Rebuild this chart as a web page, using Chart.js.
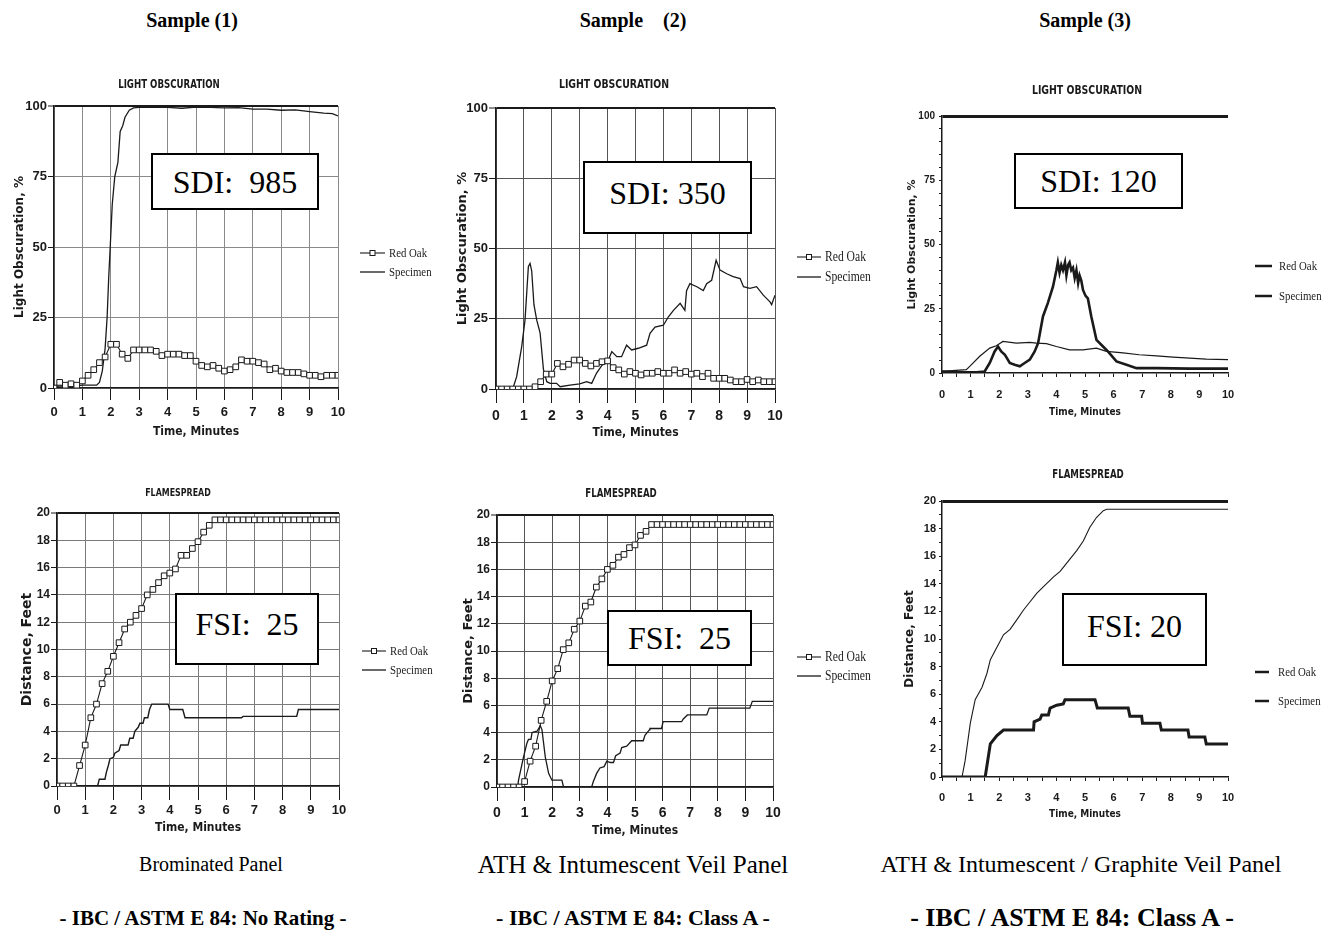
<!DOCTYPE html>
<html>
<head>
<meta charset="utf-8">
<title>Sample comparison</title>
<script src="https://cdn.jsdelivr.net/npm/chart.js@4.4.1/dist/chart.umd.min.js"></script>
<style>
  body { margin: 0; width: 1329px; height: 934px; position: relative; overflow: hidden; background: #fff; font-family: "Liberation Serif", "Times New Roman", serif; color: #000; }
  canvas { position: absolute; }
  .txt { position: absolute; white-space: pre; transform: translate(-50%, -50%); line-height: 1; }
  .head { font-weight: bold; font-size: 20px; }
  .panel-name { font-size: 24px; }
  .rating { font-weight: bold; font-size: 21px; }
  .index-box { position: absolute; box-sizing: border-box; border: 2px solid #000; background: #fff; display: flex; align-items: center; justify-content: center; font-size: 32px; white-space: pre; line-height: 1; }
</style>
</head>
<body>
<canvas id="c1"></canvas>
<canvas id="c2"></canvas>
<canvas id="c3"></canvas>
<canvas id="c4"></canvas>
<canvas id="c5"></canvas>
<canvas id="c6"></canvas>

<div class="txt head" style="left:192px;top:20px">Sample (1)</div>
<div class="txt head" style="left:633px;top:20px">Sample    (2)</div>
<div class="txt head" style="left:1085px;top:20px">Sample (3)</div>

<div class="index-box" style="left:151px;top:153px;width:168px;height:57px">SDI:  985</div>
<div class="index-box" style="left:583px;top:161px;width:169px;height:73px;padding-bottom:10px">SDI: 350</div>
<div class="index-box" style="left:1014px;top:153px;width:169px;height:56px">SDI: 120</div>
<div class="index-box" style="left:175px;top:593px;width:144px;height:72px;padding-bottom:10px">FSI:  25</div>
<div class="index-box" style="left:607px;top:610px;width:145px;height:56px">FSI:  25</div>
<div class="index-box" style="left:1062px;top:593px;width:145px;height:73px;padding-bottom:8px">FSI: 20</div>

<div class="txt panel-name" style="left:211px;top:864px;font-size:20px">Brominated Panel</div>
<div class="txt panel-name" style="left:633px;top:864px;font-size:25px">ATH &amp; Intumescent Veil Panel</div>
<div class="txt panel-name" style="left:1081px;top:864px">ATH &amp; Intumescent / Graphite Veil Panel</div>
<div class="txt rating" style="left:203px;top:918px">- IBC / ASTM E 84: No Rating -</div>
<div class="txt rating" style="left:633px;top:918px;font-size:22px">- IBC / ASTM E 84: Class A -</div>
<div class="txt rating" style="left:1072px;top:918px;font-size:26px">- IBC / ASTM E 84: Class A -</div>

<script>
// red oak squares are read every 0.2 minutes
const oakTimes = [0, 0.2, 0.4, 0.6, 0.8, 1, 1.2, 1.4, 1.6, 1.8, 2, 2.2, 2.4, 2.6, 2.8, 3, 3.2, 3.4, 3.6, 3.8,
  4, 4.2, 4.4, 4.6, 4.8, 5, 5.2, 5.4, 5.6, 5.8, 6, 6.2, 6.4, 6.6, 6.8, 7, 7.2, 7.4, 7.6, 7.8,
  8, 8.2, 8.4, 8.6, 8.8, 9, 9.2, 9.4, 9.6, 9.8, 10];

// Sample 1 - light obscuration
const s1OakSmoke = [0, 2, 1, 1.5, 1, 2.5, 4.5, 6.5, 9, 11, 15.5, 15.5, 12, 10.5, 13.5, 13.5, 13.5, 13.5, 13, 11.5,
  12, 12, 12, 11.5, 11.5, 9.5, 8, 7.5, 8, 7, 6, 6.5, 7.5, 10, 9.5, 9.5, 9, 8.5, 6.5, 7,
  6, 5.5, 5.5, 5.5, 5, 4.5, 4.5, 4, 4.5, 4.5, 4.5];
const s1SpecSmokeT = [0, 0.3, 0.6, 1, 1.5, 1.6, 1.7, 1.8, 1.87, 1.93, 1.98, 2.05, 2.14, 2.25, 2.33, 2.42, 2.5, 2.65,
  2.8, 3, 3.5, 4, 4.5, 5, 5.5, 6, 6.5, 7, 7.5, 8, 8.5, 9, 9.5, 9.8, 10];
const s1SpecSmoke = [0.5, 0.8, 0.5, 1, 1, 2, 6, 14, 25, 40, 50, 65, 75, 80, 91, 93, 96, 98.5,
  99.3, 99.5, 99.5, 99.5, 99.2, 99.6, 99.5, 99.3, 99.4, 98.9, 98.9, 98.5, 98.6, 98, 97.5, 97.3, 96.5];

// Sample 2 - light obscuration
const s2OakSmoke = [0, 0, 0, 0, 0, 0, 0, 0.8, 2.6, 5.3, 5.3, 9.1, 7.9, 8.8, 10.3, 10.3, 9.1, 8.2, 9.1, 9.7,
  10, 7.6, 6.8, 5.3, 6.2, 5.6, 5, 5.6, 5.6, 6.2, 5.6, 5.6, 6.8, 5.6, 6.2, 5.3, 5.6, 4.4, 5.6, 3.8,
  3.8, 3.8, 3.2, 2.6, 2.6, 3.4, 2.6, 3.2, 2.6, 2.6, 2.6];
const s2SpecSmokeT = [0, 0.6, 0.74, 0.92, 1.04, 1.16, 1.22, 1.28, 1.36, 1.46, 1.58, 1.7, 1.82, 1.94, 2.17, 2.3,
  2.65, 3, 3.25, 3.43, 3.6, 3.8, 4, 4.15, 4.33, 4.5, 4.68, 4.86, 5.1, 5.4, 5.52, 5.7, 6, 6.18, 6.36,
  6.6, 6.77, 6.83, 6.95, 7.2, 7.43, 7.55, 7.73, 7.89, 8.03, 8.27, 8.5, 8.75, 8.87, 9.1, 9.34, 9.58,
  9.82, 9.88, 10];
const s2SpecSmoke = [0, 0, 4.4, 15, 24.5, 43.5, 44.7, 42, 30, 24.5, 20, 7, 2.6, 2, 2, 0.8,
  1.4, 1.8, 2.6, 2, 5.6, 8.5, 9.7, 13.3, 11.5, 11.5, 15.6, 13.9, 14.5, 15.6, 19.8, 22, 22.7, 25.7, 28,
  30.5, 28, 35, 37.5, 36.4, 35, 37.5, 38.7, 45.8, 42.3, 41, 40, 39.3, 36.4, 35.8, 36.4, 33.4,
  31, 30, 33.4];

// Sample 3 - light obscuration
const s3OakSmokeT = [0, 0.85, 0.97, 1.32, 1.67, 1.9, 2.13, 2.6, 3.07, 3.3, 3.65, 4, 4.46, 4.93, 5.4, 5.75,
  6.33, 6.9, 7.5, 8.08, 8.66, 9.24, 10];
const s3OakSmoke = [0.6, 1.3, 2.6, 6.5, 9.7, 10.6, 12.3, 11.6, 11.9, 11.6, 11.4, 10.3, 9, 9, 9.7, 8.4,
  7.8, 7.1, 6.7, 6.2, 5.8, 5.4, 5.2];
const s3SpecSmokeT = [0, 0.5, 1.2, 1.49, 1.67, 1.84, 1.96, 2.07, 2.2, 2.37, 2.54, 2.72, 2.89, 3.07, 3.24, 3.36,
  3.53, 3.7, 3.88, 4, 4.05, 4.11, 4.17, 4.23, 4.3, 4.35, 4.41, 4.46, 4.52, 4.58, 4.64, 4.7, 4.76,
  4.81, 4.87, 4.93, 5.02, 5.1, 5.22, 5.4, 5.63, 5.8, 6.1, 6.45, 6.8, 7.5, 8.66, 10];
const s3SpecSmoke = [0.6, 0.4, 0.3, 0.6, 3.9, 8.4, 10.3, 8.4, 7.1, 3.9, 3.2, 2.6, 3.9, 5.2, 8.4, 11.6,
  22, 27.2, 33.6, 40, 43, 39, 42, 40, 43, 38, 42, 43, 40, 41, 37, 40, 35,
  38, 36, 32.3, 30, 29, 22, 12.9, 10.3, 8.4, 4.5, 3.2, 1.9, 1.9, 1.7, 1.7];

// Sample 1 - flamespread
const s1OakFlame = [0, 0, 0, 0, 1.5, 3, 5, 6, 7.5, 8.4, 9.5, 10.5, 11.5, 12, 12.5, 13, 14, 14.4, 14.9, 15.4,
  15.6, 15.9, 16.9, 16.9, 17.4, 17.9, 18.6, 19.1, 19.5, 19.5, 19.5, 19.5, 19.5, 19.5, 19.5, 19.5,
  19.5, 19.5, 19.5, 19.5, 19.5, 19.5, 19.5, 19.5, 19.5, 19.5, 19.5, 19.5, 19.5, 19.5, 19.5];
const s1SpecFlameT = [0, 1.44, 1.5, 1.7, 1.75, 1.82, 1.88, 2, 2.05, 2.2, 2.26, 2.52, 2.58, 2.7, 2.76, 2.88,
  2.94, 3.05, 3.1, 3.22, 3.28, 3.36, 3.94, 4, 4.46, 4.54, 6.54, 6.6, 8.5, 8.56, 10];
const s1SpecFlame = [0, 0, 0.5, 0.5, 1, 1.5, 2, 2.1, 2.4, 2.6, 3, 3, 3.5, 3.5, 4, 4.3,
  4.6, 4.6, 5, 5, 5.6, 6, 6, 5.6, 5.6, 5, 5, 5.1, 5.1, 5.6, 5.6];

// Sample 2 - flamespread
const s2OakFlame = [0, 0, 0, 0, 0, 0.4, 1.9, 3, 4.9, 6.3, 7.8, 8.7, 10.1, 10.6, 11.6, 12.2, 13.3, 13.6, 14.7, 15.3,
  16, 16.3, 16.9, 17.1, 17.6, 17.8, 18.5, 18.8, 19.3, 19.3, 19.3, 19.3, 19.3, 19.3, 19.3, 19.3,
  19.3, 19.3, 19.3, 19.3, 19.3, 19.3, 19.3, 19.3, 19.3, 19.3, 19.3, 19.3, 19.3, 19.3, 19.3];
const s2SpecFlameT = [0, 0.75, 0.78, 0.96, 1.08, 1.14, 1.23, 1.27, 1.45, 1.57, 1.63, 1.75, 1.87, 1.99, 2.35,
  2.41, 3.43, 3.49, 3.61, 3.73, 3.88, 3.98, 4.1, 4.22, 4.3, 4.46, 4.52, 4.7, 4.88, 5.3, 5.36, 5.52,
  5.54, 5.96, 6.02, 6.69, 6.75, 6.9, 7.6, 7.69, 9.16, 9.25, 10];
const s2SpecFlame = [0, 0, 0.5, 2.2, 3.2, 3.5, 3.5, 4, 4.1, 4.5, 4.2, 2.2, 1, 0.5, 0.5,
  0, 0, 0.4, 1, 1.4, 1.5, 1.9, 1.8, 1.8, 2.3, 2.5, 2.9, 3, 3.4, 3.4, 3.8, 4.2,
  4.3, 4.3, 4.8, 4.8, 5, 5.3, 5.3, 5.8, 5.8, 6.3, 6.3];

// Sample 3 - flamespread
const s3OakFlameT = [0, 0.7, 0.81, 0.99, 1.16, 1.4, 1.57, 1.69, 1.92, 2.15, 2.38, 2.62, 2.85, 3.08, 3.31,
  3.55, 3.9, 4.13, 4.36, 4.71, 4.94, 5.17, 5.4, 5.64, 5.76, 10];
const s3OakFlame = [0, 0, 1.2, 3.9, 5.6, 6.5, 7.5, 8.5, 9.4, 10.3, 10.7, 11.4, 12.1, 12.7, 13.3,
  13.8, 14.5, 14.9, 15.5, 16.4, 17.1, 18.1, 18.8, 19.3, 19.4, 19.4];
const s3SpecFlameT = [0, 1.51, 1.69, 1.92, 2.15, 3.02, 3.2, 3.22, 3.43, 3.49, 3.72, 3.78, 4.01, 4.24, 4.3,
  5.35, 5.43, 6.51, 6.57, 6.98, 7.01, 7.62, 7.67, 8.6, 8.64, 9.19, 9.24, 10];
const s3SpecFlame = [0, 0, 2.4, 3, 3.4, 3.4, 3.4, 4, 4.2, 4.5, 4.5, 5, 5.2, 5.3, 5.6,
  5.6, 5, 5, 4.4, 4.4, 3.9, 3.9, 3.4, 3.4, 2.9, 2.9, 2.4, 2.4];

const COND = "'DejaVu Sans Condensed', 'Liberation Sans', sans-serif";
const NUM = "'Liberation Sans', Arial, sans-serif";
const WIDE = "'DejaVu Sans', Verdana, sans-serif";
const SERIF = "'Liberation Serif', 'Times New Roman', serif";
const INK = '#1a1a1a';

const pts = (ts, vs) => ts.map((t, i) => ({ x: t, y: vs[i] }));

// red oak with square markers / plain specimen line
const oakSquares = (data) => ({
  label: 'Red Oak', data, borderColor: INK, borderWidth: 1.1,
  pointStyle: 'rect', pointRadius: 4, pointBackgroundColor: '#fff',
  pointBorderColor: INK, pointBorderWidth: 1
});
const plainLine = (label, data, width) => ({
  label, data, borderColor: INK, borderWidth: width, pointRadius: 0
});

// narrow text: squeeze horizontally around the anchor
function squeezeText(ctx, text, x, y, sx) {
  ctx.save();
  ctx.translate(x, y);
  ctx.scale(sx, 1);
  ctx.fillText(text, 0, 0);
  ctx.restore();
}

// title and legend drawn next to the plot
function decoPlugin(p) {
  return {
    id: 'deco',
    afterDraw(chart) {
      const ctx = chart.ctx, ox = p.box.x, oy = p.box.y;
      ctx.save();
      ctx.fillStyle = INK;
      ctx.textAlign = 'center';
      ctx.textBaseline = 'middle';
      ctx.font = `bold ${p.head.size}px ${COND}`;
      squeezeText(ctx, p.head.text, p.head.x - ox, p.head.y - oy, 0.8);

      ctx.textAlign = 'left';
      ctx.font = `${p.legend.size}px ${SERIF}`;
      chart.data.datasets.forEach((ds, i) => {
        const x = p.legend.x - ox, y = p.legend.y[i] - oy, len = p.legend.len;
        ctx.strokeStyle = INK;
        ctx.lineWidth = p.legend.width[i];
        ctx.beginPath();
        ctx.moveTo(x, y);
        ctx.lineTo(x + len, y);
        ctx.stroke();
        if (ds.pointRadius > 0) {
          ctx.fillStyle = '#fff';
          ctx.lineWidth = 1;
          ctx.fillRect(x + len / 2 - 2.5, y - 2.5, 5, 5);
          ctx.strokeRect(x + len / 2 - 2.5, y - 2.5, 5, 5);
        }
        ctx.fillStyle = INK;
        squeezeText(ctx, ds.label, x + len + p.legend.gap, y + 0.5, 0.83);
      });
      ctx.restore();
    }
  };
}

function makePanel(p) {
  const cv = document.getElementById(p.id);
  cv.width = p.box.w;
  cv.height = p.box.h;
  cv.style.left = p.box.x + 'px';
  cv.style.top = p.box.y + 'px';

  // pin the plot area: axis widths are fixed so the titles land where they should
  const yLH = p.yTitle.size * 1.2, xLH = p.xTitle.size * 1.2;
  const scaleLeft = p.yTitle.x - yLH / 2;
  const scaleBottom = p.xTitle.y + xLH / 2;
  const yw = p.plot.l - scaleLeft;
  const xh = scaleBottom - p.plot.b;
  const framed = p.style === 'grid';
  const yMax = p.yMax;
  const isTop = (c) => c.tick && c.tick.value === yMax;

  new Chart(cv, {
    type: 'line',
    data: { datasets: p.datasets },
    options: {
      responsive: false,
      animation: false,
      events: [],
      layout: {
        padding: {
          left: scaleLeft - p.box.x,
          top: p.plot.t - p.box.y,
          right: p.box.x + p.box.w - p.plot.r,
          bottom: p.box.y + p.box.h - scaleBottom
        }
      },
      plugins: { legend: { display: false }, tooltip: { enabled: false } },
      scales: {
        x: {
          type: 'linear', min: 0, max: 10,
          afterFit: (s) => { s.height = xh; },
          ticks: {
            stepSize: p.xStep, autoSkip: false, maxRotation: 0, color: INK,
            padding: p.xTick.pad,
            font: { family: NUM, weight: 'bold', size: p.xTick.size },
            callback: (v) => (Number.isInteger(v) ? v : '')
          },
          grid: {
            color: framed ? p.gridColor : 'rgba(0,0,0,0)',
            lineWidth: 1, tickLength: p.xTick.len, tickColor: INK, tickWidth: 1
          },
          border: { display: true, color: INK, width: 1.5 },
          title: {
            display: true, text: 'Time, Minutes', color: INK, padding: 0,
            font: { family: COND, weight: 'bold', size: p.xTitle.size }
          }
        },
        y: {
          min: 0, max: yMax,
          afterFit: (s) => { s.width = yw; },
          ticks: {
            stepSize: p.yStep, autoSkip: false, color: INK, padding: p.yTick.pad,
            font: { family: NUM, weight: 'bold', size: p.yTick.size },
            callback: (v) => (v % p.yLabelEvery === 0 ? v : '')
          },
          grid: {
            color: (c) => (isTop(c) ? INK : (framed ? p.gridColor : 'rgba(0,0,0,0)')),
            lineWidth: (c) => (isTop(c) ? (framed ? 2 : 3) : 1),
            tickLength: p.yTick.len, tickColor: INK, tickWidth: 1
          },
          border: { display: true, color: INK, width: 1.5 },
          title: {
            display: true, text: p.yTitle.text, color: INK, padding: 0,
            font: { family: WIDE, weight: 'bold', size: p.yTitle.size }
          }
        }
      }
    },
    plugins: [decoPlugin(p)]
  });
}

const LIGHT = 'LIGHT OBSCURATION';
const FLAME = 'FLAMESPREAD';
const SMOKE_AXIS = 'Light Obscuration, %';
const DIST_AXIS = 'Distance, Feet';

makePanel({
  id: 'c1', style: 'grid', gridColor: '#8a8a8a',
  box: { x: 0, y: 70, w: 440, h: 380 }, plot: { l: 54, t: 106, r: 338, b: 388 },
  yMax: 100, yStep: 25, yLabelEvery: 25, xStep: 1,
  yTitle: { text: SMOKE_AXIS, x: 20, size: 12 }, xTitle: { y: 432, size: 12 },
  xTick: { size: 13, len: 12, pad: 5 }, yTick: { size: 13, len: 6, pad: 1 },
  head: { text: LIGHT, x: 169, y: 85, size: 12 },
  legend: { x: 360, y: [253, 272], len: 25, gap: 4, size: 13, width: [1.1, 1.3] },
  datasets: [oakSquares(pts(oakTimes, s1OakSmoke)), plainLine('Specimen', pts(s1SpecSmokeT, s1SpecSmoke), 1.3)]
});

makePanel({
  id: 'c2', style: 'grid', gridColor: '#555',
  box: { x: 450, y: 70, w: 440, h: 380 }, plot: { l: 496, t: 108, r: 775, b: 389 },
  yMax: 100, yStep: 25, yLabelEvery: 25, xStep: 1,
  yTitle: { text: SMOKE_AXIS, x: 463, size: 13 }, xTitle: { y: 433, size: 12 },
  xTick: { size: 14, len: 14, pad: 5 }, yTick: { size: 13, len: 7, pad: 1 },
  head: { text: LIGHT, x: 614, y: 85, size: 13 },
  legend: { x: 797, y: [257, 277], len: 24, gap: 4, size: 14, width: [1.1, 1.3] },
  datasets: [oakSquares(pts(oakTimes, s2OakSmoke)), plainLine('Specimen', pts(s2SpecSmokeT, s2SpecSmoke), 1.3)]
});

makePanel({
  id: 'c3', style: 'axes',
  box: { x: 890, y: 70, w: 439, h: 350 }, plot: { l: 942, t: 116, r: 1228, b: 373 },
  yMax: 100, yStep: 5, yLabelEvery: 25, xStep: 0.5,
  yTitle: { text: SMOKE_AXIS, x: 912, size: 11 }, xTitle: { y: 412, size: 10 },
  xTick: { size: 11, len: 4, pad: 11 }, yTick: { size: 10, len: 3, pad: 4 },
  head: { text: LIGHT, x: 1087, y: 91, size: 13 },
  legend: { x: 1255, y: [266, 296], len: 17, gap: 7, size: 13, width: [2.5, 2.5] },
  datasets: [plainLine('Red Oak', pts(s3OakSmokeT, s3OakSmoke), 1.2), plainLine('Specimen', pts(s3SpecSmokeT, s3SpecSmoke), 2.6)]
});

makePanel({
  id: 'c4', style: 'grid', gridColor: '#7a7a7a',
  box: { x: 0, y: 480, w: 440, h: 370 }, plot: { l: 57, t: 513, r: 339, b: 786 },
  yMax: 20, yStep: 2, yLabelEvery: 2, xStep: 1,
  yTitle: { text: DIST_AXIS, x: 27, size: 14 }, xTitle: { y: 828, size: 12 },
  xTick: { size: 13, len: 14, pad: 3 }, yTick: { size: 12, len: 6, pad: 1 },
  head: { text: FLAME, x: 178, y: 493, size: 11 },
  legend: { x: 362, y: [651, 670], len: 24, gap: 4, size: 13, width: [1.1, 1.3] },
  datasets: [oakSquares(pts(oakTimes, s1OakFlame)), plainLine('Specimen', pts(s1SpecFlameT, s1SpecFlame), 1.4)]
});

makePanel({
  id: 'c5', style: 'grid', gridColor: '#555',
  box: { x: 450, y: 480, w: 440, h: 370 }, plot: { l: 497, t: 515, r: 773, b: 787 },
  yMax: 20, yStep: 2, yLabelEvery: 2, xStep: 1,
  yTitle: { text: DIST_AXIS, x: 469, size: 13 }, xTitle: { y: 831, size: 12 },
  xTick: { size: 14, len: 14, pad: 4 }, yTick: { size: 12, len: 6, pad: 1 },
  head: { text: FLAME, x: 621, y: 494, size: 12 },
  legend: { x: 797, y: [657, 676], len: 24, gap: 4, size: 14, width: [1.1, 1.3] },
  datasets: [oakSquares(pts(oakTimes, s2OakFlame)), plainLine('Specimen', pts(s2SpecFlameT, s2SpecFlame), 1.3)]
});

makePanel({
  id: 'c6', style: 'axes',
  box: { x: 890, y: 460, w: 439, h: 370 }, plot: { l: 942, t: 501, r: 1228, b: 777 },
  yMax: 20, yStep: 1, yLabelEvery: 2, xStep: 0.5,
  yTitle: { text: DIST_AXIS, x: 910, size: 12 }, xTitle: { y: 814, size: 10 },
  xTick: { size: 11, len: 4, pad: 10 }, yTick: { size: 11, len: 3, pad: 3 },
  head: { text: FLAME, x: 1088, y: 475, size: 12 },
  legend: { x: 1255, y: [672, 701], len: 14, gap: 9, size: 13, width: [2.5, 2.5] },
  datasets: [plainLine('Red Oak', pts(s3OakFlameT, s3OakFlame), 1.1), plainLine('Specimen', pts(s3SpecFlameT, s3SpecFlame), 3)]
});
</script>
</body>
</html>
